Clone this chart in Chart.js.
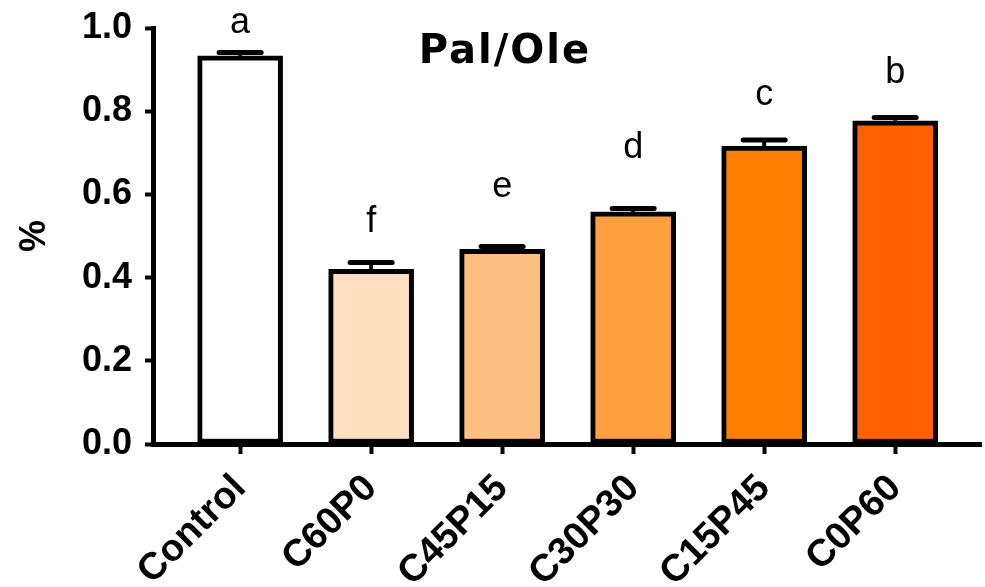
<!DOCTYPE html>
<html>
<head>
<meta charset="utf-8">
<script src="https://cdn.jsdelivr.net/npm/chart.js@4/dist/chart.umd.min.js"></script>
<style>
  html, body { margin: 0; padding: 0; background: #fff; }
  #wrap { width: 985px; height: 587px; }
</style>
</head>
<body>
<div id="wrap"><canvas id="c" width="985" height="587"></canvas></div>
<script>
// Palmitic / oleic ratio per diet group
const categories = ['Control', 'C60P0', 'C45P15', 'C30P30', 'C15P45', 'C0P60'];
const means = [0.933, 0.420, 0.468, 0.558, 0.716, 0.777];
const errors = [0.008, 0.016, 0.007, 0.008, 0.015, 0.008];
const letters = ['a', 'f', 'e', 'd', 'c', 'b'];
const yTicks = [0, 0.2, 0.4, 0.6, 0.8, 1.0];

const fillColors = ['#FFFFFF', '#FFDFC0', '#FFBF80', '#FF9F40', '#FF8000', '#FF6000'];
const AXIS_FONT = "'Liberation Sans', Arial, sans-serif";

// error bars (upper half only) and significance letters
const annotate = {
  id: 'annotate',
  afterDatasetsDraw(chart, args, opts) {
    const { ctx, scales: { x, y } } = chart;
    ctx.save();
    ctx.strokeStyle = '#000';
    ctx.fillStyle = '#000';
    means.forEach((m, i) => {
      const px = x.getPixelForValue(i);
      const yBar = y.getPixelForValue(m);
      const yTop = y.getPixelForValue(m + errors[i]);
      ctx.lineCap = 'butt';
      ctx.lineWidth = 4;
      ctx.beginPath();
      ctx.moveTo(px, yBar);
      ctx.lineTo(px, yTop);
      ctx.stroke();
      ctx.lineCap = 'round';
      ctx.lineWidth = 5;
      ctx.beginPath();
      ctx.moveTo(px - 21, yTop);
      ctx.lineTo(px + 21, yTop);
      ctx.stroke();
      ctx.font = "36px " + AXIS_FONT;
      ctx.textAlign = 'center';
      ctx.textBaseline = 'alphabetic';
      ctx.fillText(letters[i], px, yTop - opts.gaps[i]);
    });
    // panel title
    ctx.font = "bold 40px 'DejaVu Sans', Verdana, sans-serif";
    if ('letterSpacing' in ctx) ctx.letterSpacing = '2px';
    ctx.textAlign = 'center';
    ctx.fillText('Pal/Ole', 505, 63);
    ctx.restore();
  }
};

new Chart(document.getElementById('c'), {
  type: 'bar',
  data: {
    datasets: [{
      data: means.map((m, i) => ({ x: i, y: m })),
      backgroundColor: fillColors,
      borderColor: '#000',
      borderWidth: 5,
      borderSkipped: false,
      barThickness: 85
    }]
  },
  options: {
    responsive: false,
    animation: false,
    layout: { padding: { top: 28, right: 4, bottom: 0, left: 0 } },
    plugins: {
      legend: { display: false },
      tooltip: { enabled: false },
      annotate: { gaps: [20, 31, 49, 51, 35, 34] }
    },
    scales: {
      x: {
        type: 'linear',
        offset: false,
        min: -0.665,
        max: 5.655,
        afterBuildTicks: s => { s.ticks = categories.map((c, i) => ({ value: i })); },
        afterFit: s => { s.height = 143; },
        ticks: {
          callback: v => categories[v],
          autoSkip: false,
          minRotation: 45,
          maxRotation: 45,
          padding: 12,
          color: '#000',
          font: { family: AXIS_FONT, size: 38, weight: 'bold' }
        },
        grid: { offset: false, drawOnChartArea: false, drawTicks: true, tickLength: 10, tickWidth: 4, tickColor: '#000' },
        border: { color: '#000', width: 5 }
      },
      y: {
        min: 0,
        max: 1,
        afterBuildTicks: s => { s.ticks = yTicks.map(v => ({ value: v })); },
        afterFit: s => { s.width = 153; s.paddingTop = 0; s.paddingBottom = 0; },
        ticks: {
          callback: v => v.toFixed(1),
          padding: 13,
          color: '#000',
          font: { family: AXIS_FONT, size: 36, weight: 'bold' }
        },
        grid: { drawOnChartArea: false, drawTicks: true, tickLength: 8, tickWidth: 4, tickColor: '#000' },
        border: { color: '#000', width: 5 },
        title: {
          display: true,
          text: '%',
          color: '#000',
          padding: { top: 13, bottom: 0 },
          font: { family: AXIS_FONT, size: 36, weight: 'bold' }
        }
      }
    }
  },
  plugins: [annotate]
});
</script>
</body>
</html>
